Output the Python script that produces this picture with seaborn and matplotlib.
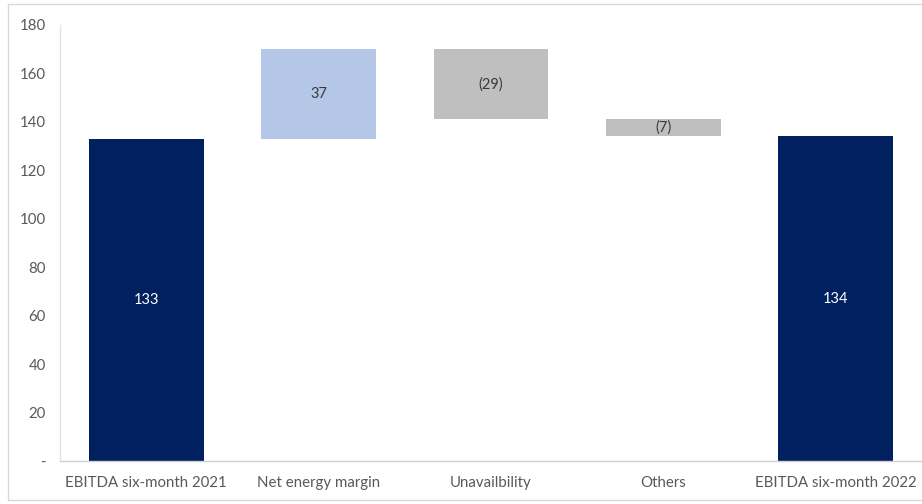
import matplotlib
matplotlib.use("Agg")
import matplotlib.pyplot as plt
from matplotlib.patches import Rectangle
import seaborn as sns
import pandas as pd

# Waterfall steps: opening total, changes, closing total
categories = ["EBITDA six-month 2021", "Net energy margin", "Unavailbility",
              "Others", "EBITDA six-month 2022"]
values = [133, 37, -29, -7, 134]
kinds = ["total", "delta", "delta", "delta", "total"]
value_labels = ["133", "37", "(29)", "(7)", "134"]
y_ticks = [0, 20, 40, 60, 80, 100, 120, 140, 160, 180]
y_tick_labels = ["-", "20", "40", "60", "80", "100", "120", "140", "160", "180"]

NAVY = "#002060"
LIGHT_BLUE = "#B4C7E7"
GREY = "#BFBFBF"

# Floating segment geometry for each step
bottoms, heights, colors, text_colors = [], [], [], []
running = 0
for kind, v in zip(kinds, values):
    if kind == "total":
        bottoms.append(0)
        heights.append(v)
        running = v
        colors.append(NAVY)
        text_colors.append("white")
    else:
        start = running
        running = running + v
        bottoms.append(min(start, running))
        heights.append(abs(v))
        colors.append(LIGHT_BLUE if v > 0 else GREY)
        text_colors.append("#3A3A3A")

df = pd.DataFrame({"category": categories, "height": heights})

sns.set_theme(style="white")
plt.rcParams["font.family"] = ["Lato", "DejaVu Sans"]

fig = plt.figure(figsize=(9.22, 5.04), dpi=100)
ax = fig.add_axes([60 / 922, 1 - 461 / 504, 1 - 60 / 922, (461 - 25) / 504])

sns.barplot(data=df, x="category", y="height", order=categories,
            bottom=bottoms, width=0.667, color=NAVY, linewidth=0,
            errorbar=None, ax=ax)
for patch, c in zip(ax.patches, colors):
    patch.set_facecolor(c)
    patch.set_edgecolor(c)

for i, (b, h, lab, tc) in enumerate(zip(bottoms, heights, value_labels, text_colors)):
    ax.text(i, b + h / 2, lab, ha="center", va="center", fontsize=10.5,
            color=tc)

ax.set_xlim(-0.5, 4.5)
ax.set_ylim(0, 180)
ax.set_yticks(y_ticks)
ax.set_yticklabels(y_tick_labels)
ax.set_xlabel("")
ax.set_ylabel("")
ax.tick_params(axis="both", length=0, labelsize=10.8, colors="#595959")
ax.tick_params(axis="x", pad=11)
ax.tick_params(axis="y", pad=10)

for side in ["top", "right"]:
    ax.spines[side].set_visible(False)
ax.spines["left"].set_color("#E3E3E3")
ax.spines["bottom"].set_color("#D0D0D0")
ax.spines["left"].set_linewidth(1.0)
ax.spines["bottom"].set_linewidth(1.0)

# Light frame around the chart area
fig.patches.append(Rectangle((8 / 922, 4 / 504), 1.2, 496 / 504,
                             transform=fig.transFigure, fill=False,
                             edgecolor="#D9D9D9", linewidth=1.0))

fig.savefig("out.png", dpi=100)
